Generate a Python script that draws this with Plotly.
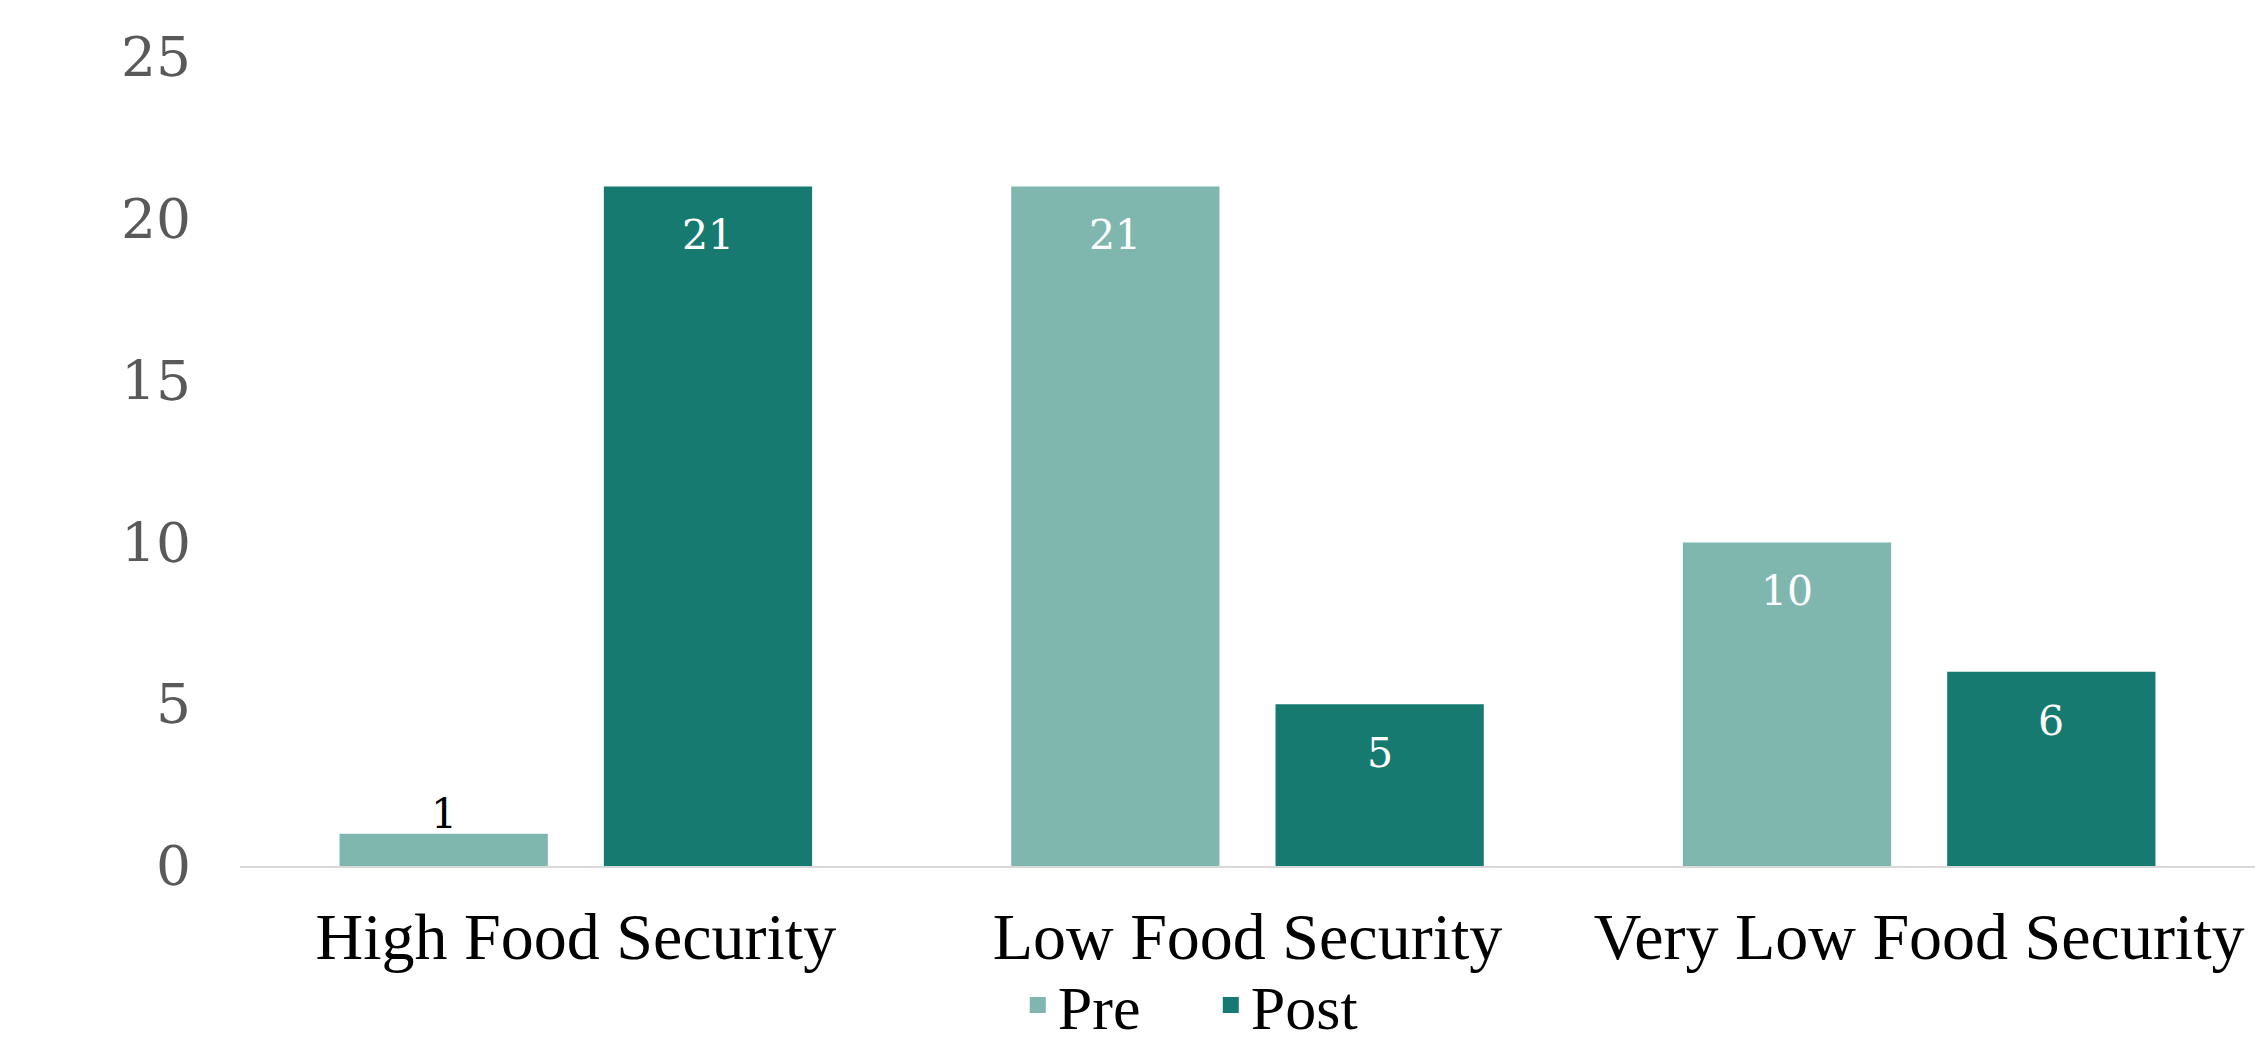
import plotly.graph_objects as go

categories = ["High Food Security", "Low Food Security", "Very Low Food Security"]
pre_values = [1, 21, 10]
post_values = [21, 5, 6]
series_names = ["Pre", "Post"]
y_ticks = [0, 5, 10, 15, 20, 25]

PRE_COLOR = "#7FB7AF"
POST_COLOR = "#177A70"
BARGAP = 0.213
BARGROUPGAP = 0.212

fig = go.Figure()
fig.add_trace(go.Bar(name=series_names[0], x=categories, y=pre_values,
                     marker=dict(color=PRE_COLOR, line=dict(width=0)),
                     showlegend=False, hoverinfo="skip"))
fig.add_trace(go.Bar(name=series_names[1], x=categories, y=post_values,
                     marker=dict(color=POST_COLOR, line=dict(width=0)),
                     showlegend=False, hoverinfo="skip"))

# legend entries
for nm, col in zip(series_names, [PRE_COLOR, POST_COLOR]):
    fig.add_trace(go.Scatter(x=[None], y=[None], mode="markers", name=nm,
                             marker=dict(symbol="square", size=16, color=col)))

# data labels via annotations computed from the data
slot = (1 - BARGAP) / 2
for s_idx, vals in enumerate([pre_values, post_values]):
    off = (s_idx - 0.5) * slot
    for i, v in enumerate(vals):
        inside = v >= 2
        fig.add_annotation(x=i + off, y=v, xref="x", yref="y", text=str(v),
                           showarrow=False, yanchor="middle",
                           yshift=-49 if inside else 20,
                           font=dict(family="DejaVu Serif", size=41,
                                     color="white" if inside else "black"))

fig.update_layout(
    width=2255, height=1059,
    margin=dict(l=240, r=0, t=57, b=193),
    plot_bgcolor="white", paper_bgcolor="white",
    barmode="group", bargap=BARGAP, bargroupgap=BARGROUPGAP,
    showlegend=True,
    legend=dict(orientation="h", x=0.386, xanchor="left", y=-0.172, yanchor="middle",
                font=dict(family="Liberation Serif", size=62, color="black"),
                entrywidth=148, entrywidthmode="pixels", tracegroupgap=0,
                bgcolor="rgba(0,0,0,0)"),
)
fig.update_xaxes(type="category", showgrid=False, showline=True, linecolor="#D9D9D9",
                 linewidth=2, ticks="", ticklabelstandoff=12,
                 tickfont=dict(family="Liberation Serif", size=66, color="black"),
                 zeroline=False)
fig.update_yaxes(range=[0, 25], tickvals=y_ticks, showgrid=False, showline=False,
                 zeroline=False, ticks="", ticklabelstandoff=48,
                 tickfont=dict(family="DejaVu Serif", size=55, color="#595959"))

fig.write_html("out.html")
